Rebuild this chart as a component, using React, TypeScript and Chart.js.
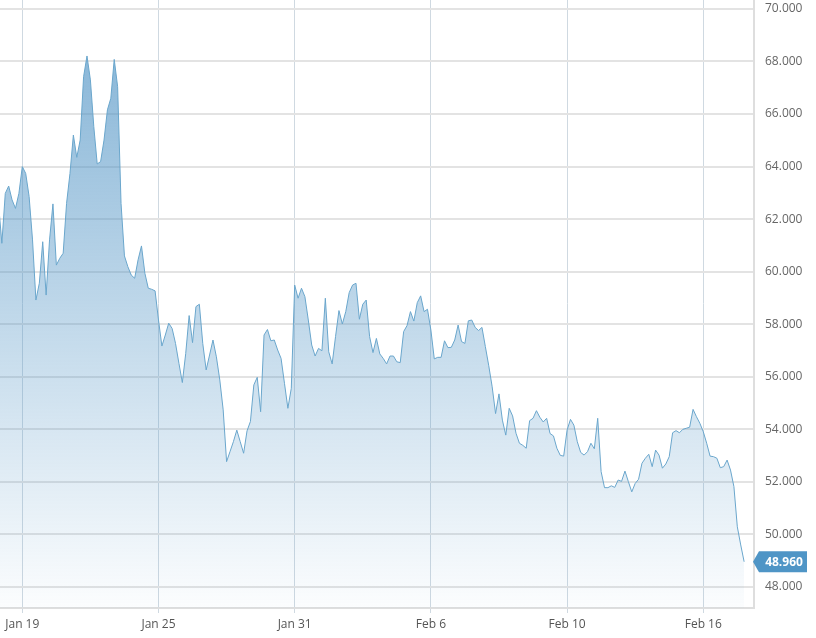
import React, { useEffect, useRef } from "react";
import { Chart, registerables } from "chart.js";

Chart.register(...registerables);

// Price series (one point per step, index 0 is just left of the visible area)
const values: number[] = [
  62.6, 61.08, 62.98, 63.26, 62.73, 62.41, 62.98, 64.0, 63.74, 62.86,
  61.21, 58.92, 59.56, 61.14, 59.11, 61.21, 62.58, 60.25, 60.51, 60.7,
  62.6, 63.74, 65.2, 64.35, 65.01, 67.42, 68.21, 67.3, 65.52, 64.1,
  64.19, 65.01, 66.16, 66.6, 68.08, 67.04, 62.6, 60.6, 60.19, 59.87,
  59.75, 60.45, 60.98, 59.94, 59.37, 59.33, 59.27, 58.16, 57.17, 57.59,
  58.04, 57.84, 57.27, 56.51, 55.78, 56.89, 58.33, 57.3, 58.67, 58.76,
  57.27, 56.26, 56.83, 57.4, 56.76, 55.88, 54.74, 52.77, 53.15, 53.53,
  53.97, 53.53, 53.09, 53.94, 54.3, 55.69, 55.98, 54.67, 57.59, 57.8,
  57.37, 57.4, 57.02, 56.7, 55.75, 54.8, 55.56, 59.49, 58.99, 59.37,
  59.05, 58.16, 57.21, 56.79, 57.08, 56.99, 58.99, 56.95, 56.49, 57.53,
  58.52, 58.01, 58.48, 59.2, 59.49, 59.56, 58.19, 58.76, 58.92, 57.53,
  56.92, 57.46, 56.87, 56.7, 56.49, 56.79, 56.79, 56.57, 56.54, 57.72,
  57.95, 58.48, 58.12, 58.82, 59.08, 58.48, 58.57, 57.78, 56.68, 56.74,
  56.74, 57.37, 57.11, 57.12, 57.4, 57.97, 57.34, 57.27, 58.13, 58.16,
  57.88, 57.76, 57.88, 57.15, 56.42, 55.62, 54.6, 55.35, 54.35, 53.78,
  54.8, 54.51, 53.85, 53.47, 53.39, 53.28, 54.33, 54.42, 54.71, 54.46,
  54.28, 54.42, 53.84, 53.75, 53.28, 53.01, 52.98, 53.97, 54.38, 54.16,
  53.53, 53.12, 53.02, 53.15, 53.47, 53.26, 54.42, 52.39, 51.78, 51.78,
  51.85, 51.79, 52.07, 52.02, 52.41, 52.01, 51.62, 51.94, 52.1, 52.71,
  52.9, 53.05, 52.58, 53.21, 53.02, 52.52, 52.68, 52.96, 53.87, 53.95,
  53.87, 54.0, 54.04, 54.08, 54.76, 54.48, 54.23, 53.91, 53.47, 52.98,
  52.96, 52.9, 52.54, 52.58, 52.83, 52.45, 51.82, 50.29, 49.6, 48.96,
];

const xTickIndex: number[] = [7, 47, 87, 127, 167, 207];
const xTickLabels: string[] = ["Jan 19", "Jan 25", "Jan 31", "Feb 6", "Feb 10", "Feb 16"];
const yTickValues: number[] = [48, 50, 52, 54, 56, 58, 60, 62, 64, 66, 68, 70];

const X_MIN = 0.45;
const X_MAX = 221.9;
const Y_MIN = 47.2;
const Y_MAX = 70.34;

const FONT = "'Open Sans', 'Noto Sans', sans-serif";

const lastBadge = {
  id: "lastBadge",
  afterDraw(chart: any) {
    const ctx = chart.ctx;
    const area = chart.chartArea;
    const v = values[values.length - 1];
    const y = chart.scales.y.getPixelForValue(v);
    const tip = area.right - 1;
    const boxL = area.right + 5;
    const boxR = area.right + 53;
    const h = 10.5;
    ctx.save();
    ctx.fillStyle = "#4f95c6";
    ctx.beginPath();
    ctx.moveTo(tip, y);
    ctx.lineTo(boxL, y - h);
    ctx.lineTo(boxR, y - h);
    ctx.lineTo(boxR, y + h);
    ctx.lineTo(boxL, y + h);
    ctx.closePath();
    ctx.fill();
    ctx.fillStyle = "#ffffff";
    ctx.font = "bold 12px " + FONT;
    ctx.textAlign = "center";
    ctx.textBaseline = "middle";
    ctx.fillText(v.toFixed(3), (boxL + boxR) / 2 + 1, y + 0.5);
    ctx.restore();
  },
};

export default function App() {
  const ref = useRef<HTMLCanvasElement | null>(null);

  useEffect(() => {
    if (!ref.current) return;
    const chart = new Chart(ref.current, {
      type: "line",
      data: {
        datasets: [
          {
            data: values.map((v, i) => ({ x: i, y: v })),
            borderColor: "#6aa6cc",
            borderWidth: 1,
            pointRadius: 0,
            tension: 0,
            fill: "start",
            backgroundColor: (context: any) => {
              const c = context.chart;
              const area = c.chartArea;
              if (!area) return "rgba(78,146,196,0.4)";
              const g = c.ctx.createLinearGradient(0, area.top, 0, area.bottom);
              g.addColorStop(0, "rgba(78,146,196,0.72)");
              g.addColorStop(1, "rgba(78,146,196,0.02)");
              return g;
            },
          },
        ],
      },
      options: {
        responsive: false,
        animation: false,
        layout: { padding: 0 },
        plugins: {
          legend: { display: false },
          tooltip: { enabled: false },
        },
        scales: {
          x: {
            type: "linear",
            min: X_MIN,
            max: X_MAX,
            afterBuildTicks: (scale: any) => {
              scale.ticks = xTickIndex.map((v) => ({ value: v }));
            },
            afterFit: (scale: any) => {
              scale.height = 30;
              scale.paddingLeft = 0;
              scale.paddingRight = 0;
            },
            grid: {
              color: "#cfd9e1",
              lineWidth: 1,
              drawTicks: true,
              tickLength: 5,
            },
            border: { display: true, color: "#dedede", width: 2 },
            ticks: {
              autoSkip: false,
              maxRotation: 0,
              padding: 4,
              color: "#555555",
              font: { family: FONT, size: 12 },
              callback: (value: any) => {
                const k = xTickIndex.indexOf(Number(value));
                return k >= 0 ? xTickLabels[k] : "";
              },
            },
          },
          y: {
            type: "linear",
            position: "right",
            min: Y_MIN,
            max: Y_MAX,
            afterBuildTicks: (scale: any) => {
              scale.ticks = yTickValues.map((v) => ({ value: v }));
            },
            afterFit: (scale: any) => {
              scale.width = 62;
              scale.paddingTop = 0;
              scale.paddingBottom = 0;
            },
            grid: {
              color: "#e3e3e3",
              lineWidth: 2,
              drawTicks: false,
            },
            border: { display: true, color: "#dedede", width: 2 },
            ticks: {
              padding: 11,
              color: "#666666",
              font: { family: FONT, size: 12 },
              callback: (value: any) => Number(value).toFixed(3),
            },
          },
        },
      },
      plugins: [lastBadge],
    });
    return () => chart.destroy();
  }, []);

  return (
    <div
      style={{
        position: "fixed",
        left: 0,
        top: 0,
        width: 816,
        height: 638,
        background: "#ffffff",
      }}
    >
      <canvas ref={ref} width={816} height={638} />
    </div>
  );
}
